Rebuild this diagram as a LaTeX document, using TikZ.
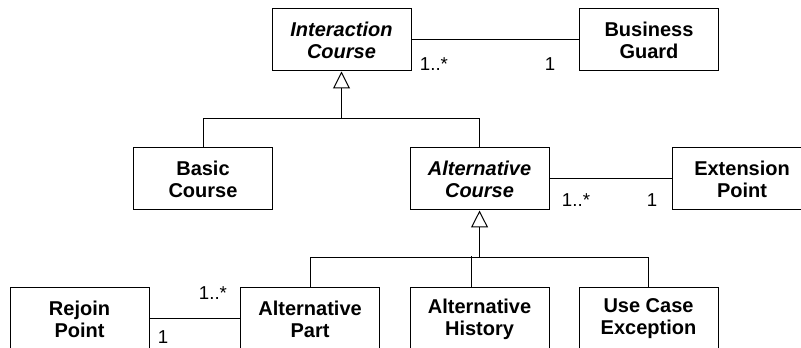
\documentclass[tikz,border=0pt]{standalone}
\usepackage{fontspec}
\setmainfont{Liberation Sans}
\usetikzlibrary{arrows.meta}

\begin{document}
\begin{tikzpicture}[x=0.75pt, y=-0.75pt, line width=0.75pt,
    main/.style = {draw, rectangle, align=center, inner sep=0pt,
        minimum width=104.25pt, minimum height=46.5pt,
        font=\fontsize{15}{16.5}\selectfont\bfseries},
    abstract/.style = {main, font=\fontsize{15}{16.5}\selectfont\bfseries\itshape},
    mult/.style = {inner sep=0pt, font=\fontsize{14}{14}\selectfont},
    gen/.style = {-{Triangle[open, width=12.75pt, length=12.75pt]}}]
    \useasboundingbox (0,0) rectangle (801,348);

    \node[abstract] (ic) at (341.5,40) {Interaction\\Course};
    \node[main] (bg) [right of= ic, node distance=230.6pt]{Business\\Guard};

    \node[main] (bc) at (203,179) {Basic\\Course};
    \node[abstract] (ac) [right of= bc, node distance=207.4pt]{Alternative\\Course};
    \node[main] (ep) [right of= ac, node distance=196.9pt]{Extension\\Point};

    \node[main] (ah) [below of= ac, node distance=105pt]{Alternative\\History};
    \node[main] (uce) [right of= ah, node distance=126.75pt]{Use Case\\Exception};
    \node[main] (ap) [left of= ah, node distance=127.1pt]{Alternative\\Part};
    \node[main] (rp) [left of= ap, node distance=172.9pt]{Rejoin\\Point};

    \coordinate (j1) at ([yshift=-35.25pt]ic.south);
    \coordinate (j2) at ([yshift=-35.25pt]ac.south);

    % associations
    \draw (ic) -- (bg);
    \node[mult] (m11) at (434,64) {1..*};
    \node[mult] (m12) at (550,64) {1};

    \draw (ac) -- (ep);
    \node[mult] (m21) at (576,200) {1..*};
    \node[mult] (m22) at (652,200) {1};

    \draw (rp) -- (ap);
    \node[mult] (m31) at (213,293) {1..*};
    \node[mult] (m32) at (163,337) {1};

    % generalizations
    \draw[gen] (j1) -- (ic.south);
    \draw (bc.north) |- (j1) -| (ac.north);

    \draw[gen] (j2) -- (ac.south);
    \draw (ap.north) |- (j2) -| (uce.north);
    \draw ([xshift=-6pt]ah.north) -- +(0,-31);

\end{tikzpicture}
\end{document}
